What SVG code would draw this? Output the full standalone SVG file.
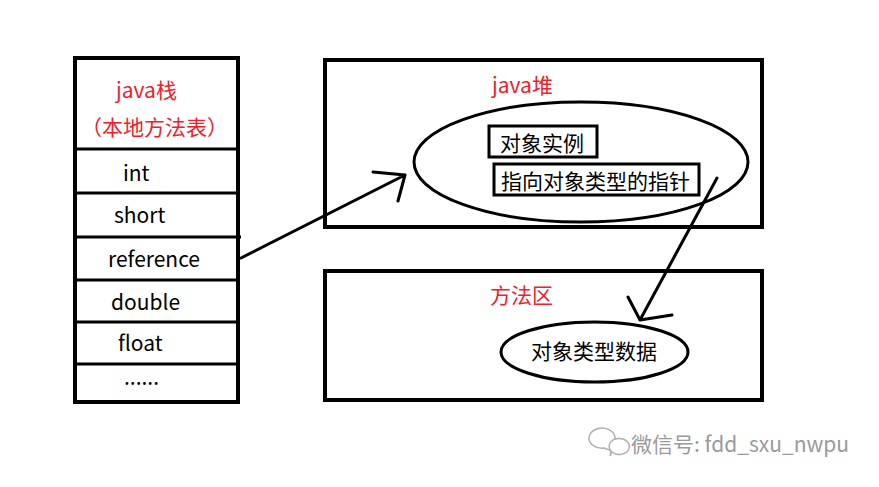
<svg xmlns="http://www.w3.org/2000/svg" width="879" height="487" viewBox="0 0 879 487">
<style>
.box{fill:#fff;stroke:#000;stroke-width:4}
.div{stroke:#000;stroke-width:3}
.ell{fill:none;stroke:#000;stroke-width:3}
.ibox{fill:none;stroke:#000;stroke-width:3}
.t{font-family:"Noto Sans CJK SC","Noto Sans",sans-serif;font-size:21px;fill:#000}
.r{fill:#f0202a}
.con{fill:none;stroke:#000;stroke-width:3;stroke-linecap:round;stroke-linejoin:round}
.wm{font-family:"Noto Sans CJK SC","Noto Sans",sans-serif;font-size:21px;fill:#9a9a9a}
</style>
<rect width="879" height="487" fill="#fff"/>
<g id="java-stack">
<rect class="box" x="75" y="58" width="163" height="344"/>
<line class="div" x1="75" y1="149" x2="238" y2="149"/>
<line class="div" x1="75" y1="193" x2="238" y2="193"/>
<line class="div" x1="75" y1="237" x2="241" y2="237"/>
<line class="div" x1="75" y1="280" x2="238" y2="280"/>
<line class="div" x1="75" y1="322" x2="238" y2="322"/>
<line class="div" x1="75" y1="364" x2="238" y2="364"/>
<text class="t r" x="116" y="98">java栈</text>
<text class="t r" x="81" y="135">（本地方法表）</text>
<text class="t" x="123" y="181">int</text>
<text class="t" x="114" y="223">short</text>
<text class="t" x="108" y="267">reference</text>
<text class="t" x="111" y="310">double</text>
<text class="t" x="118" y="351">float</text>
<text class="t" x="124" y="385">......</text>
</g>
<g id="java-heap">
<rect class="box" x="325" y="60" width="437" height="167"/>
<text class="t r" x="492" y="93">java堆</text>
<ellipse class="ell" cx="581" cy="162" rx="167" ry="60"/>
<g id="object-instance">
<rect class="ibox" x="489" y="126" width="108" height="31"/>
<text class="t" x="500" y="151">对象实例</text>
</g>
<g id="type-pointer">
<rect class="ibox" x="494" y="164" width="205" height="31"/>
<text class="t" x="501" y="189">指向对象类型的指针</text>
</g>
</g>
<g id="method-area">
<rect class="box" x="325" y="271" width="437" height="129"/>
<text class="t r" x="490" y="303">方法区</text>
<g id="type-data">
<ellipse class="ell" cx="594.5" cy="352" rx="93.5" ry="30"/>
<text class="t" x="531" y="359">对象类型数据</text>
</g>
</g>
<g id="connectors">
<path class="con" d="M241 258 L405 175 M373 172 L405 175 L398 201"/>
<path class="con" d="M717 178 L640 320 M628 297 L640 320 L672 315"/>
</g>
<g id="watermark">
<g fill="none" stroke="#b0b0b0" stroke-width="1.5">
<path d="M604 448 a13 10 0 1 1 6 -2 l2 5 z"/>
<path d="M612 452 a10 8 0 1 0 -1 -1 l-1 5 z" fill="#fff"/>
</g>
<text class="wm" x="631" y="452">微信号: fdd_sxu_nwpu</text>
</g>
</svg>
